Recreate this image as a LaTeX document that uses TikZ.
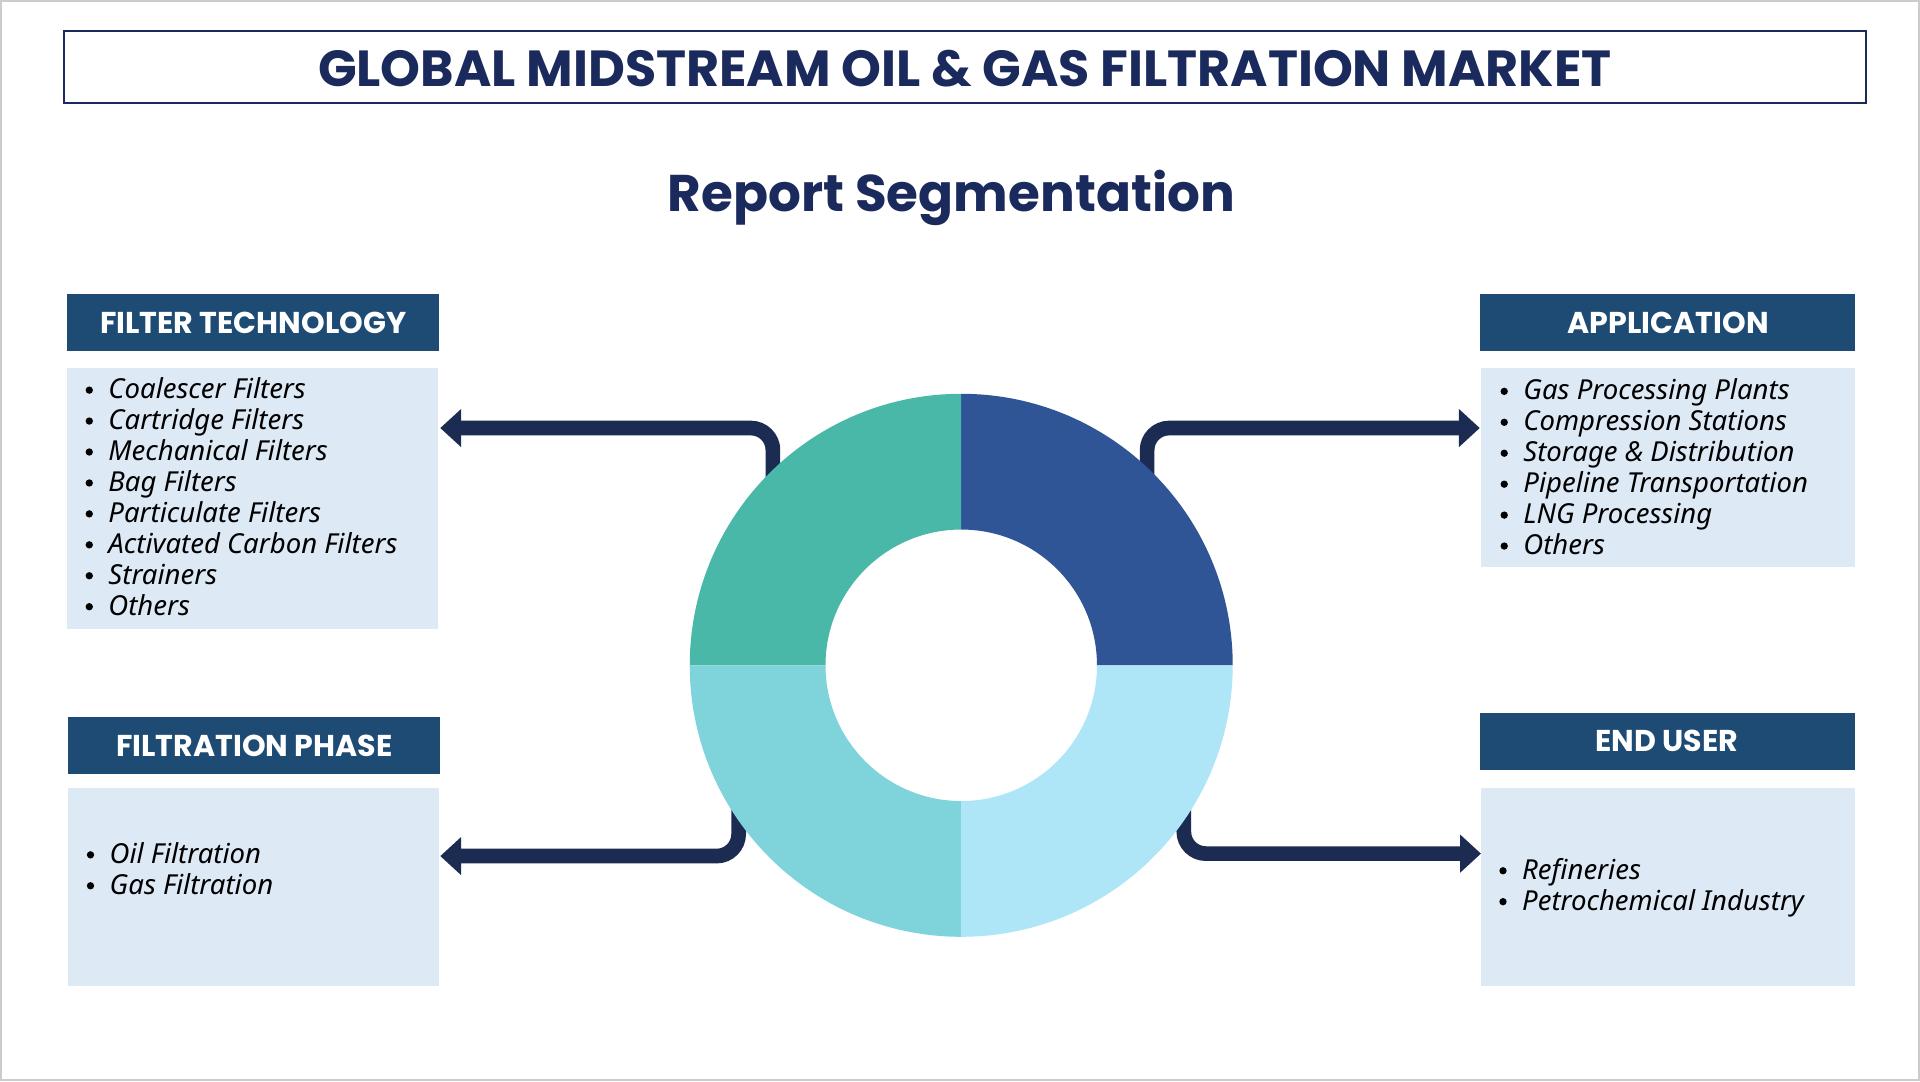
\documentclass[tikz,border=0pt]{standalone}
\usepackage{fontspec}
\setmainfont{Noto Sans}
\newfontfamily\headfont{Poppins}
\usetikzlibrary{arrows.meta,positioning,calc}
\definecolor{navy}{HTML}{1B2A5C}
\definecolor{hdrblue}{HTML}{1D4B73}
\definecolor{listbg}{HTML}{DDE9F5}
\definecolor{arrowc}{HTML}{1B2B52}
\definecolor{qone}{HTML}{2F5597}
\definecolor{qtwo}{HTML}{4AB8A8}
\definecolor{qthree}{HTML}{7FD3DB}
\definecolor{qfour}{HTML}{AEE6F8}
\tikzset{
  hdr/.style={fill=hdrblue,text=white,font=\headfont\bfseries\fontsize{7}{8}\selectfont,inner sep=0pt},
  listbox/.style={fill=listbg},
  item/.style={anchor=base west,font=\itshape\fontsize{6.4}{7}\selectfont,inner sep=0pt},
  conn/.style={arrowc,line width=0.12cm,rounded corners=0.18cm,-{Triangle[width=0.3cm,length=0.17cm]}}
}
\newcommand{\itemlist}[4]{% x, first y, spacing, items
  \foreach \txt [count=\i from 0] in {#4}{
    \fill (#1,#2+\i*#3) circle (3);
    \node[item] at (#1+15,#2+\i*#3+7) {\txt};
  }}
\newcommand{\quadrant}[3]{% start angle, end angle, colour
  \fill[#3] ($(c)+(#1:222)$) arc[start angle=#1,end angle=#2,radius=222]
    -- ($(c)+(#2:111)$) arc[start angle=#2,end angle=#1,radius=111] -- cycle;}
\begin{document}
\begin{tikzpicture}[x=0.01cm,y=-0.01cm]
\draw[fill=white,draw=gray!40,line width=0.02cm] (0,0) rectangle (1568,882);
% title
\draw[navy,line width=0.015cm] (51,24) rectangle (1525,83);
\node[navy,font=\headfont\bfseries\fontsize{11.8}{13}\selectfont] (title) at (788,55) {GLOBAL MIDSTREAM OIL \& GAS FILTRATION MARKET};
\node[navy,font=\headfont\bfseries\fontsize{12}{14}\selectfont] (sub) at (777,161) {Report Segmentation};
% headers
\fill[hdrblue] (54,239) rectangle (358,286);
\node[hdr] (ft) at (206,263) {FILTER TECHNOLOGY};
\fill[hdrblue] (1209,239) rectangle (1516,286);
\node[hdr] (app) at (1363,263) {APPLICATION};
\fill[hdrblue] (55,585) rectangle (359,632);
\node[hdr] (fp) at (207,609) {FILTRATION PHASE};
\fill[hdrblue] (1209,582) rectangle (1516,629);
\node[hdr] (eu) at (1362,605) {END USER};
% lists
\fill[listbox] (54,300) rectangle (357,513);
\fill[listbox] (1210,300) rectangle (1516,463);
\fill[listbox] (55,643) rectangle (358,805);
\fill[listbox] (1210,643) rectangle (1516,805);
\itemlist{72}{318}{25.3}{Coalescer Filters,Cartridge Filters,Mechanical Filters,Bag Filters,Particulate Filters,Activated Carbon Filters,Strainers,Others}
\itemlist{1229}{319}{25.3}{Gas Processing Plants,Compression Stations,Storage \& Distribution,Pipeline Transportation,LNG Processing,Others}
\itemlist{73}{698}{25.3}{Oil Filtration,Gas Filtration}
\itemlist{1228}{711}{25.3}{Refineries,Petrochemical Industry}
% connectors
\coordinate (c) at (785,543);
\coordinate (tl) at (631,400);
\coordinate (tr) at (937,400);
\coordinate (bl) at (603,650);
\coordinate (br) at (967,650);
\coordinate (ftl) at (359,349);
\coordinate (appl) at (1209,349);
\coordinate (fpl) at (359,699);
\coordinate (eul) at (1210,697);
\draw[conn] (tl) |- (ftl);
\draw[conn] (tr) |- (appl);
\draw[conn] (bl) |- (fpl);
\draw[conn] (br) |- (eul);
% donut
\quadrant{0}{-90}{qone}
\quadrant{-90}{-180}{qtwo}
\quadrant{180}{90}{qthree}
\quadrant{90}{0}{qfour}
\end{tikzpicture}
\end{document}
